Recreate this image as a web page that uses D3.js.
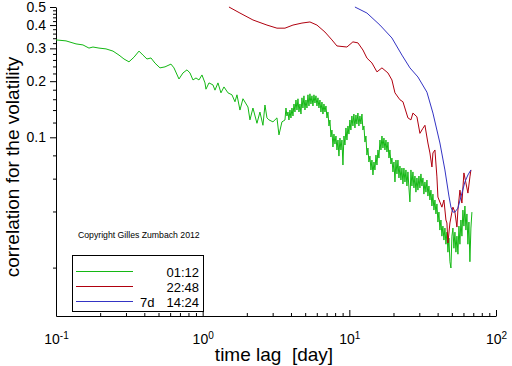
<!DOCTYPE html>
<html><head><meta charset="utf-8">
<script src="https://cdn.jsdelivr.net/npm/d3@7"></script>
<style>html,body{margin:0;padding:0;background:#fff;} svg{display:block;}</style>
</head><body><svg id="c" width="512" height="366"></svg>
<script>
// ---- data (lag in days, correlation) ----
const greenLag=[0.100,0.117,0.1369,0.1527,0.1678,0.1787,0.1964,0.2192,0.2447,0.2689,
0.2908,0.3145,0.3402,0.368,0.3918,0.4172,0.4442,0.4731,0.5117,0.5536,
0.6081,0.6374,0.6894,0.7341,0.7817,0.8194,0.8589,0.9002,0.9436,0.9891,
1.0369,1.0533,1.104,1.1755,1.2131,1.2714,1.3327,1.397,1.4875,1.584,
1.6606,1.7134,1.796,1.8826,2.036,2.101,2.202,2.345,2.458,2.5765,
2.659,2.744,2.831,3.015,3.210,3.313,3.472,
3.640,3.698,3.756,3.816,3.876,3.937,3.999,4.063,4.127,4.192,4.259,4.326,4.395,4.464,4.535,
4.606,4.679,4.753,4.828,4.904,4.983,5.062,5.142,5.223,5.306,
5.388,5.473,5.560,5.648,5.737,5.829,5.921,6.015,6.110,6.206,
6.304,6.404,6.505,6.608,6.713,6.820,6.928,7.037,7.148,7.262,
7.376,7.493,7.611,7.732,7.854,7.979,8.106,8.234,8.364,8.496,
8.629,8.765,8.904,9.045,9.188,9.335,9.482,9.633,9.784,9.940,
10.09,10.25,10.41,10.58,10.74,10.92,11.09,11.26,11.44,11.62,
11.81,12.00,12.19,12.38,12.58,12.78,12.98,13.18,13.39,13.60,
13.82,14.04,14.26,14.49,14.72,14.95,15.19,15.43,15.67,15.92,
16.17,16.43,16.69,16.95,17.22,17.49,17.77,18.05,18.34,18.63,
18.92,19.22,19.52,19.83,20.15,20.47,20.79,21.12,21.45,21.79,
22.13,22.48,22.84,23.20,23.56,23.94,24.32,24.70,25.09,25.49,
25.89,26.30,26.72,27.14,27.57,28.01,28.45,28.90,29.36,29.82,
30.29,30.77,31.26,31.75,32.25,32.77,33.29,33.81,34.35,34.89,
35.44,36.00,36.57,37.15,37.74,38.34,38.95,39.56,40.19,40.82,
41.46,42.12,42.78,43.46,44.15,44.85,45.56,46.28,47.01,47.76,
48.51,49.28,50.06,50.85,51.65,52.48,53.31,54.15,55.01,55.88,
56.75,57.65,58.56,59.49,60.43,61.39,62.36,63.35,64.35,65.37,
66.39,67.44,68.51];
const greenVal=[0.333,0.329,0.317,0.313,0.301,0.305,0.301,0.298,0.290,0.276,
0.263,0.254,0.269,0.290,0.276,0.263,0.2665,0.250,0.2357,0.2387,
0.247,0.2357,0.2055,0.2214,0.230,0.2214,0.203,0.2081,0.203,0.216,
0.1958,0.1812,0.1958,0.191,0.179,0.1958,0.1732,0.1863,0.1732,0.169,
0.1551,0.169,0.140,0.161,0.1454,0.124,0.1436,0.1189,0.1366,0.116,
0.149,0.1271,0.124,0.121,0.1271,0.103,0.121,
0.1238,0.1436,0.1301,0.1367,0.1238,0.1401,0.1269,0.1436,0.1301,0.1509,0.1367,0.1585,0.1401,0.1609,0.1367,
0.1509,0.1333,0.1628,0.1436,0.1669,0.1401,0.1585,0.1436,0.169,0.1472,
0.1711,0.1509,0.1669,0.1472,0.169,0.1527,0.1669,0.1472,0.1628,0.1436,
0.1585,0.1367,0.1546,0.1333,0.1509,0.1367,0.1472,0.1269,0.1367,0.115,
0.1238,0.1004,0.1094,0.0887,0.1041,0.0920,0.1016,0.0855,0.0967,0.0793,
0.0991,0.0855,0.0967,0.0710,0.1016,0.0909,0.1122,0.0967,0.115,0.1041,
0.1238,0.1094,0.1301,0.115,0.1333,0.1122,0.1317,0.1178,0.135,0.115,
0.1301,0.1178,0.1333,0.1094,0.115,0.0943,0.1016,0.0803,0.0876,0.0737,
0.0793,0.0668,0.0755,0.0628,0.0737,0.0668,0.0803,0.0710,0.0855,0.0774,
0.0967,0.0855,0.1016,0.0876,0.0991,0.0855,0.0967,0.0834,0.0943,0.0774,
0.0855,0.0719,0.0774,0.0652,0.0737,0.0576,0.0755,0.0636,0.0755,0.0605,
0.0701,0.0590,0.0684,0.0562,0.0684,0.0576,0.0668,0.0548,0.0652,0.0535,
0.0450,0.0668,0.0548,0.0652,0.0535,0.0620,0.0508,0.0605,0.0521,0.0620,
0.0535,0.0636,0.0548,0.0605,0.0496,0.0576,0.0508,0.0590,0.0484,0.0548,
0.0461,0.0521,0.0428,0.0496,0.0407,0.0461,0.0388,0.0439,0.0351,0.0397,
0.0318,0.0360,0.0295,0.0334,0.0281,0.0326,0.0267,0.0310,0.0242,0.0288,
0.0215,0.0199,0.0295,0.0326,0.0254,0.0310,0.0242,0.0295,0.0236,0.0334,
0.0267,0.0360,0.0295,0.0407,0.0334,0.0428,0.0318,0.0388,0.0267,0.0351,
0.0215,0.0326,0.0397];

const redLag=[1.511,1.796,2.202,2.744,3.210,3.640,4.127,4.753,5.388,6.014,
6.820,7.611,8.232,9.626,10.576,11.445,12.379,13.185,14.261,15.43,
16.686,18.335,19.52,20.47,22.13,23.20,25.09,26.30,27.14,28.90,
30.29,31.75,32.77,34.34,35.44,36.57,37.15,38.34,39.55,40.18,
42.78,44.15,45.56,46.28,47.01,48.51,50.06,50.85,52.48,54.14,
55.0,56.75,58.56,60.43,62.35,64.34,66.39,67.44];
const redVal=[0.5,0.464,0.426,0.400,0.385,0.385,0.400,0.410,0.4156,0.400,
0.367,0.333,0.309,0.305,0.325,0.321,0.294,0.266,0.2505,0.2244,
0.2357,0.2214,0.203,0.1732,0.159,0.1551,0.1271,0.124,0.1349,0.1288,
0.105,0.1118,0.116,0.0932,0.0824,0.0693,0.0824,0.0855,0.0613,0.0478,
0.0422,0.0461,0.0360,0.0347,0.0271,0.0347,0.0397,0.0422,0.0397,0.0330,
0.0407,0.0521,0.0444,0.0644,0.0569,0.0502,0.0613,0.0668];

const blueLag=[10.915,13.185,16.17,19.52,22.84,25.89,29.35,33.81,37.15,41.46,
44.84,47.76,49.28,50.85,52.48,55.0,58.56,61.39,64.34,67.44];
const blueVal=[0.5,0.464,0.400,0.341,0.276,0.2357,0.2107,0.1746,0.1349,0.0932,
0.0668,0.0484,0.0422,0.0397,0.0397,0.0417,0.0502,0.0576,0.0628,0.0668];

const seriesNames=["01:12","22:48","7d 14:24"];
const seriesColors=["#14b814","#b0000e","#3434c4"];
const yMajorTicks=[0.1,0.2,0.3,0.4,0.5];
const yMinorTicks=[0.02,0.04,0.06,0.08,0.12,0.14,0.16,0.18,0.22,0.24,0.26,0.28,0.32,0.34,0.36,0.38,0.42,0.44,0.46,0.48];
const xMajorTicks=[0.1,1,10,100];
const xTickExponents=["-1","0","1","2"];
const xMinorTicks=[0.2,0.3,0.4,0.5,0.6,0.7,0.8,0.9,2,3,4,5,6,7,8,9,20,30,40,50,60,70,80,90];
const xTitle="time lag\u00a0 [day]";
const yTitle="correlation for the volatility";
const copyright="Copyright Gilles Zumbach 2012";

// ---- drawing ----
const FONT='"Liberation Sans", Arial, Helvetica, sans-serif';
const svg=d3.select("#c");
const x=d3.scaleLog().domain([0.1,100]).range([56,496]);
const y=d3.scaleLog().domain([0.011,0.5]).range([316,7]);

// y axis
const gy=svg.append("g").attr("transform","translate(56,0)")
  .call(d3.axisLeft(y).tickValues(yMajorTicks).tickSize(6).tickSizeOuter(0).tickPadding(4).tickFormat(d3.format(".1f")))
  .attr("font-size",14).attr("font-family",FONT);
gy.selectAll("text").attr("fill","#000");
const gy2=svg.append("g").attr("transform","translate(56,0)")
  .call(d3.axisLeft(y).tickValues(yMinorTicks).tickSize(3).tickSizeOuter(0).tickFormat(()=>""));
gy2.select(".domain").remove();

// x axis (ticks inward)
const gx=svg.append("g").attr("transform","translate(0,316)")
  .call(d3.axisBottom(x).tickValues(xMajorTicks).tickSizeInner(-6).tickSizeOuter(0).tickPadding(18).tickFormat(()=>""))
  .attr("font-size",14).attr("font-family",FONT);
gx.selectAll(".tick text").each(function(d,i){
  const t=d3.select(this).attr("fill","#000");
  t.append("tspan").text("10");
  t.append("tspan").attr("dy","-0.5em").attr("font-size",10).text(xTickExponents[i]);
});
const gx2=svg.append("g").attr("transform","translate(0,316)")
  .call(d3.axisBottom(x).tickValues(xMinorTicks).tickSizeInner(-3).tickSizeOuter(0).tickFormat(()=>""));
gx2.select(".domain").remove();

// series
const line=d3.line().x(d=>x(d[0])).y(d=>y(d[1]));
const series=[d3.zip(greenLag,greenVal),d3.zip(redLag,redVal),d3.zip(blueLag,blueVal)];
series.forEach((s,i)=>{
  svg.append("path").datum(s).attr("d",line).attr("fill","none")
    .attr("stroke",seriesColors[i]).attr("stroke-width",1);
});

// titles
svg.append("text").attr("x",274).attr("y",361).attr("text-anchor","middle")
  .attr("font-family",FONT).attr("font-size",19).text(xTitle);
svg.append("text").attr("transform","translate(19,167) rotate(-90)").attr("text-anchor","middle")
  .attr("font-family",FONT).attr("font-size",19).text(yTitle);

// copyright
svg.append("text").attr("x",78).attr("y",238).attr("font-family",FONT).attr("font-size",8.7).text(copyright);

// legend
const lg=svg.append("g");
lg.append("rect").attr("x",72.5).attr("y",255.5).attr("width",131).attr("height",56)
  .attr("fill","#fff").attr("stroke","#000").attr("stroke-width",1);
seriesNames.forEach((n,i)=>{
  const yy=271.5+15*i;
  lg.append("line").attr("x1",76).attr("x2",133).attr("y1",yy).attr("y2",yy)
    .attr("stroke",seriesColors[i]).attr("stroke-width",1);
  const parts=n.split(" ");
  lg.append("text").attr("x",199).attr("y",yy+5).attr("text-anchor","end")
    .attr("font-family",FONT).attr("font-size",13).text(parts[parts.length-1]);
  if(parts.length>1){
    lg.append("text").attr("x",140).attr("y",yy+5).attr("text-anchor","start")
      .attr("font-family",FONT).attr("font-size",13).text(parts[0]);
  }
});
</script></body></html>
